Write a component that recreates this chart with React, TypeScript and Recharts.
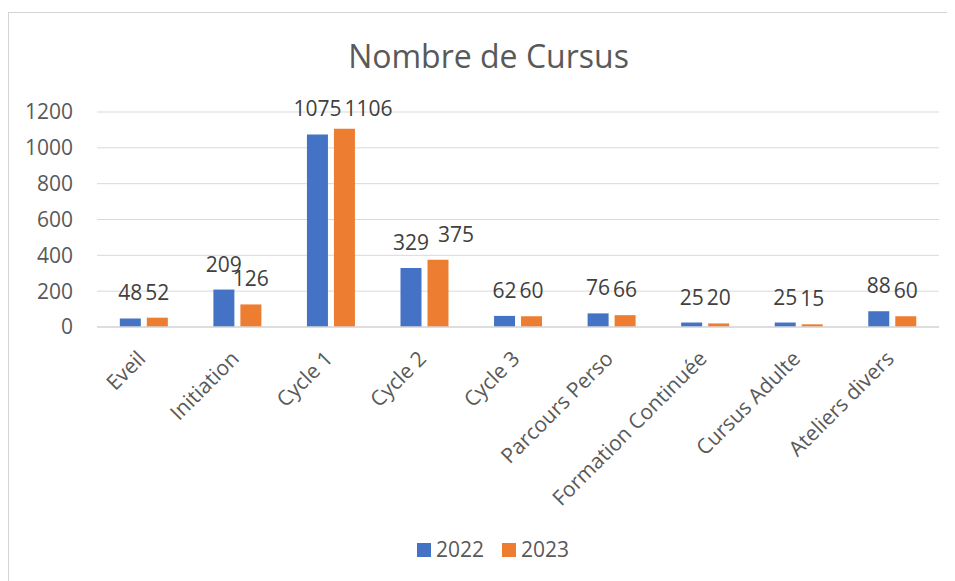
import React from 'react';
import { BarChart, Bar, XAxis, YAxis, CartesianGrid, Legend, LabelList } from 'recharts';

const categories = ['Eveil', 'Initiation', 'Cycle 1', 'Cycle 2', 'Cycle 3', 'Parcours Perso', 'Formation Continuée', 'Cursus Adulte', 'Ateliers divers'];
const values2022 = [48, 209, 1075, 329, 62, 76, 25, 25, 88];
const values2023 = [52, 126, 1106, 375, 60, 66, 20, 15, 60];
const yTicks = [0, 200, 400, 600, 800, 1000, 1200];
const seriesNames = ['2022', '2023'];
const seriesColors = ['#4472C4', '#ED7D31'];
const title = 'Nombre de Cursus';

// manual label nudges (as in the original, to keep neighbouring labels apart)
const labelNudge2023: Record<string, [number, number]> = {
  'Cycle 1': [24, 5],
  'Cycle 2': [18, 0],
};

const data = categories.map((c, i) => ({ name: c, y2022: values2022[i], y2023: values2023[i] }));

const FONT = '"Open Sans", sans-serif';

const CatTick = (props: any) => {
  const { x, y, payload } = props;
  const ax = x + 3;
  const ay = y + 33;
  return (
    <text
      x={ax}
      y={ay}
      textAnchor="end"
      transform={`rotate(-45, ${ax}, ${ay})`}
      fill="#595959"
      fontSize={21}
      fontFamily={FONT}
    >
      {payload.value}
    </text>
  );
};

const makeLabel = (nudges: Record<string, [number, number]>) => (props: any) => {
  const { x, y, width, value, index } = props;
  const cat = categories[index];
  const n = (cat && nudges[cat]) || [0, 0];
  return (
    <text
      x={Number(x) + Number(width) / 2 + n[0]}
      y={Number(y) - 18 + n[1]}
      textAnchor="middle"
      fill="#404040"
      fontSize={21}
      fontFamily={FONT}
    >
      {value}
    </text>
  );
};

const label2022 = makeLabel({});
const label2023 = makeLabel(labelNudge2023);

const LegendContent = () => (
  <svg width={947} height={50} style={{ display: 'block' }}>
    {seriesNames.map((n, i) => (
      <g key={n}>
        <rect x={409 + i * 85} y={12} width={14} height={14} fill={seriesColors[i]} />
        <text x={428 + i * 85} y={26} fontSize={21} fill="#595959" fontFamily={FONT}>
          {n}
        </text>
      </g>
    ))}
  </svg>
);

export default function App() {
  return (
    <div style={{ position: 'relative', width: 947, height: 573, fontFamily: FONT, overflow: 'hidden' }}>
      <div
        style={{
          position: 'absolute',
          left: 0,
          top: 4,
          width: 960,
          height: 600,
          borderTop: '1px solid #d4d4d4',
          borderLeft: '1px solid #d4d4d4',
          boxSizing: 'border-box',
        }}
      />
      <div
        style={{
          position: 'absolute',
          left: 0,
          top: 32,
          width: 961,
          textAlign: 'center',
          fontSize: 32,
          lineHeight: '32px',
          color: '#595959',
          fontFamily: FONT,
        }}
      >
        {title}
      </div>
      <BarChart
        width={947}
        height={573}
        data={data}
        margin={{ top: 104, right: 16, bottom: 0, left: 0 }}
        barCategoryGap="24.4%"
        barGap={6}
        style={{ position: 'absolute', left: 0, top: 0 }}
      >
        <CartesianGrid vertical={false} stroke="#d9d9d9" />
        <XAxis
          dataKey="name"
          interval={0}
          tickLine={false}
          tickSize={0}
          tickMargin={0}
          axisLine={{ stroke: '#d9d9d9', strokeWidth: 1.5 }}
          height={204}
          tick={<CatTick />}
        />
        <YAxis
          domain={[0, 1200]}
          ticks={yTicks}
          width={89}
          axisLine={false}
          tickLine={false}
          tickSize={6}
          tickMargin={18}
          tick={{ fill: '#595959', fontSize: 21, fontFamily: FONT }}
        />
        <Legend verticalAlign="bottom" height={50} content={<LegendContent />} />
        <Bar dataKey="y2022" name={seriesNames[0]} fill={seriesColors[0]} isAnimationActive={false}>
          <LabelList dataKey="y2022" position="top" content={label2022} />
        </Bar>
        <Bar dataKey="y2023" name={seriesNames[1]} fill={seriesColors[1]} isAnimationActive={false}>
          <LabelList dataKey="y2023" position="top" content={label2023} />
        </Bar>
      </BarChart>
    </div>
  );
}
